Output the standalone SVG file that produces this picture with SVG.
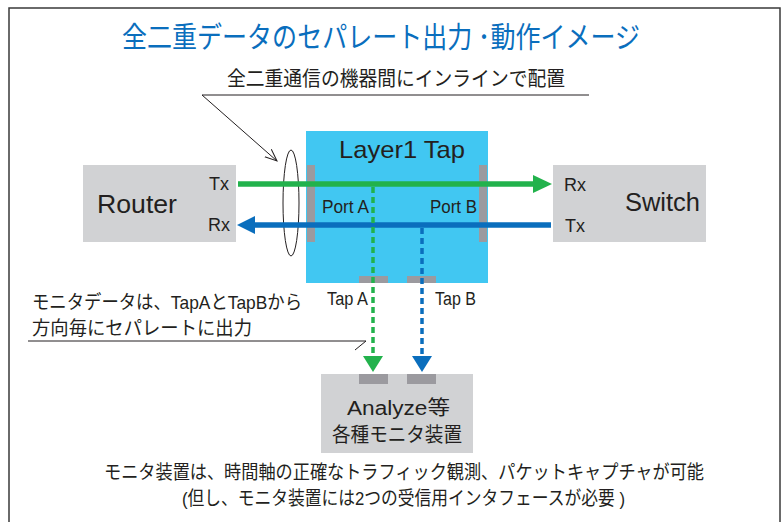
<svg xmlns="http://www.w3.org/2000/svg" width="782" height="522" viewBox="0 0 782 522">
  <style>
    .jp { font-family: "Liberation Sans", "Noto Sans CJK JP", sans-serif; fill: #231f20; }
    .lat { font-family: "Liberation Sans", Arial, sans-serif; fill: #231f20; }
    .box { fill: #d1d2d4; }
    .bar { fill: #9b9a9f; }
    .thin { fill: none; stroke: #231f20; stroke-width: 1; }
  </style>
  <defs>
    <marker id="arrG" markerUnits="userSpaceOnUse" markerWidth="20" markerHeight="18" refX="0" refY="9" orient="auto" viewBox="0 0 20 18">
      <path d="M0,0 L19,9 L0,18 z" fill="#22b24c"/>
    </marker>
    <marker id="arrB" markerUnits="userSpaceOnUse" markerWidth="20" markerHeight="18" refX="0" refY="9" orient="auto" viewBox="0 0 20 18">
      <path d="M0,0 L18,9 L0,18 z" fill="#0a6ebd"/>
    </marker>
    <marker id="arrGd" markerUnits="userSpaceOnUse" markerWidth="18" markerHeight="20" refX="0" refY="10" orient="auto" viewBox="0 0 18 20">
      <path d="M0,0 L16,10 L0,20 z" fill="#22b24c"/>
    </marker>
    <marker id="arrBd" markerUnits="userSpaceOnUse" markerWidth="18" markerHeight="20" refX="0" refY="10" orient="auto" viewBox="0 0 18 20">
      <path d="M0,0 L16,10 L0,20 z" fill="#0a6ebd"/>
    </marker>
    <marker id="arrOpen" markerUnits="userSpaceOnUse" markerWidth="14" markerHeight="12" refX="12" refY="6" orient="auto" viewBox="0 0 14 12">
      <path d="M0,1 L12,6 L0,11" fill="none" stroke="#231f20" stroke-width="1"/>
    </marker>
  </defs>

  <!-- outer frame -->
  <rect x="9" y="8" width="771" height="530" fill="#ffffff" stroke="#3a3a3a" stroke-width="1.5"/>

  <!-- title -->
  <text x="122" y="48" font-size="29" textLength="518" lengthAdjust="spacingAndGlyphs" style="font-family: 'Noto Sans CJK JP', sans-serif; fill:#0a6ebd;">全二重データのセパレート出力 ･動作イメージ</text>

  <!-- subtitle callout -->
  <g id="callout-top">
    <text class="jp" x="227" y="85.5" font-size="20.5" textLength="338" lengthAdjust="spacingAndGlyphs">全二重通信の機器間にインラインで配置</text>
    <polyline class="thin" points="589,95 202,95 277,161" marker-end="url(#arrOpen)"/>
    <ellipse cx="291" cy="203" rx="8" ry="53" class="thin"/>
  </g>

  <!-- Router -->
  <g id="router">
    <rect class="box" x="83" y="165" width="153" height="77"/>
    <text class="lat" x="97" y="213" font-size="26" textLength="80" lengthAdjust="spacingAndGlyphs">Router</text>
    <text class="lat" x="229" y="190" font-size="18" text-anchor="end">Tx</text>
    <text class="lat" x="230" y="231" font-size="18" text-anchor="end">Rx</text>
  </g>

  <!-- Switch -->
  <g id="switch">
    <rect class="box" x="553" y="165" width="153" height="77"/>
    <text class="lat" x="564" y="191" font-size="18">Rx</text>
    <text class="lat" x="565" y="232" font-size="18">Tx</text>
    <text class="lat" x="625" y="211" font-size="25" textLength="75" lengthAdjust="spacingAndGlyphs">Switch</text>
  </g>

  <!-- Layer1 Tap -->
  <g id="tap">
    <rect x="306" y="131" width="182" height="152" fill="#41c7f2"/>
    <text class="lat" x="339" y="158" font-size="24" textLength="126" lengthAdjust="spacingAndGlyphs">Layer1 Tap</text>
    <rect class="bar" x="307" y="165" width="8" height="77"/>
    <rect class="bar" x="479" y="165" width="8" height="77"/>
    <text class="lat" x="322" y="213" font-size="18" textLength="47" lengthAdjust="spacingAndGlyphs">Port A</text>
    <text class="lat" x="430" y="213" font-size="18" textLength="47" lengthAdjust="spacingAndGlyphs">Port B</text>
    <rect class="bar" x="359" y="276" width="29" height="7"/>
    <rect class="bar" x="407" y="276" width="29" height="7"/>
  </g>

  <!-- Tap labels -->
  <g id="tap-labels">
    <text class="lat" x="327" y="305" font-size="18" textLength="41" lengthAdjust="spacingAndGlyphs">Tap A</text>
    <text class="lat" x="435" y="305" font-size="18" textLength="41" lengthAdjust="spacingAndGlyphs">Tap B</text>
  </g>

  <!-- Analyzer -->
  <g id="analyzer">
    <rect class="box" x="321" y="374" width="152" height="79"/>
    <rect class="bar" x="359" y="374" width="29" height="10"/>
    <rect class="bar" x="407" y="374" width="29" height="10"/>
    <text class="jp" x="347" y="415" font-size="20" textLength="103" lengthAdjust="spacingAndGlyphs">Analyze等</text>
    <text class="jp" x="332" y="442" font-size="20" textLength="130" lengthAdjust="spacingAndGlyphs">各種モニタ装置</text>
  </g>

  <!-- connectors -->
  <g id="connectors">
    <line x1="238" y1="184" x2="533" y2="184" stroke="#22b24c" stroke-width="5.5" marker-end="url(#arrG)"/>
    <line x1="551" y1="225" x2="255" y2="225" stroke="#0a6ebd" stroke-width="5.5" marker-end="url(#arrB)"/>
    <line x1="373" y1="187" x2="373" y2="356" stroke="#22b24c" stroke-width="3.5" stroke-dasharray="6 4" marker-end="url(#arrGd)"/>
    <line x1="422" y1="228" x2="422" y2="356" stroke="#0a6ebd" stroke-width="3.5" stroke-dasharray="6 4" marker-end="url(#arrBd)"/>
  </g>

  <!-- left callout -->
  <g id="callout-left">
    <text class="jp" x="32" y="309" font-size="19" textLength="270" lengthAdjust="spacingAndGlyphs">モニタデータは、TapAとTapBから</text>
    <text class="jp" x="32" y="335" font-size="19" textLength="220" lengthAdjust="spacingAndGlyphs">方向毎にセパレートに出力</text>
    <polyline class="thin" points="28,341 366,341 355,350"/>
  </g>

  <!-- bottom note -->
  <g id="note">
    <text class="jp" x="104" y="479" font-size="19" textLength="600" lengthAdjust="spacingAndGlyphs">モニタ装置は、時間軸の正確なトラフィック観測、パケットキャプチャが可能</text>
    <text class="jp" x="182" y="505" font-size="19" textLength="443" lengthAdjust="spacingAndGlyphs">(但し、モニタ装置には2つの受信用インタフェースが必要 )</text>
  </g>
</svg>
